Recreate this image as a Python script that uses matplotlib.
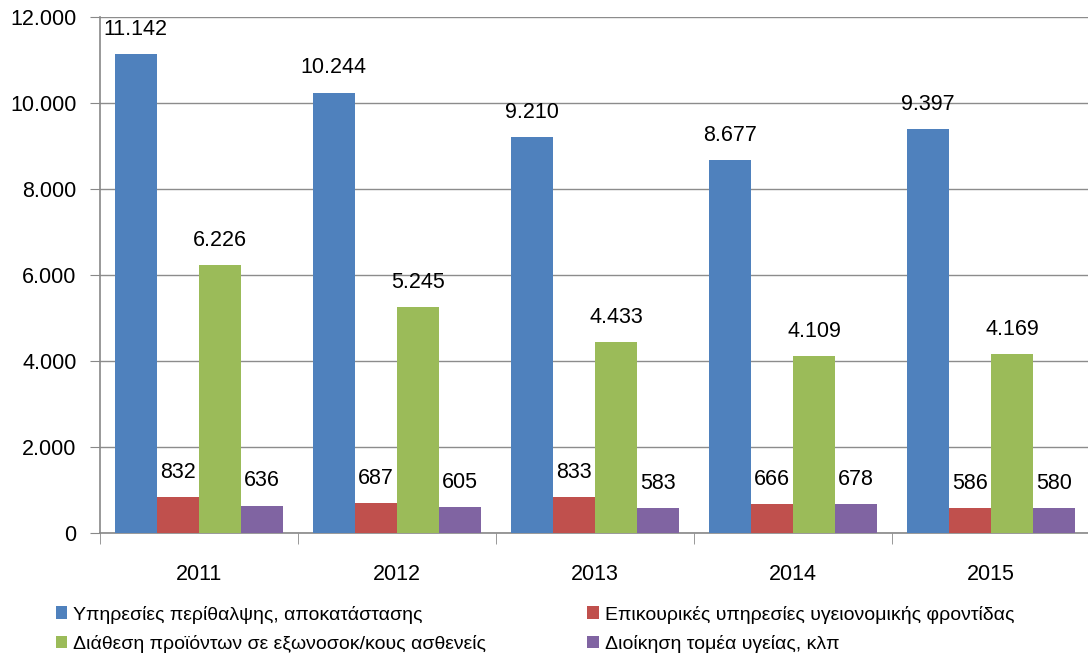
import numpy as np
import matplotlib.pyplot as plt
from matplotlib.ticker import FuncFormatter

years = ['2011', '2012', '2013', '2014', '2015']
series_names = ['Υπηρεσίες περίθαλψης, αποκατάστασης',
                'Επικουρικές υπηρεσίες υγειονομικής φροντίδας',
                'Διάθεση προϊόντων σε εξωνοσοκ/κους ασθενείς',
                'Διοίκηση τομέα υγείας, κλπ']
care = [11142, 10244, 9210, 8677, 9397]
aux = [832, 687, 833, 666, 586]
products = [6226, 5245, 4433, 4109, 4169]
admin = [636, 605, 583, 678, 580]
colors = ['#4f81bd', '#c0504d', '#9bbb59', '#8064a2']

plt.rcParams['font.family'] = ['Liberation Sans', 'DejaVu Sans']

fig = plt.figure(figsize=(10.88, 6.59), dpi=100)
ax = fig.add_axes([100 / 1088, 1 - 533 / 659, 990 / 1088, 516 / 659])

x = np.arange(len(years))
w = 0.213
for i, (vals, c) in enumerate(zip([care, aux, products, admin], colors)):
    pos = x + (i - 1.5) * w
    ax.bar(pos, vals, w, color=c, label=series_names[i], zorder=3)
    for p, v in zip(pos, vals):
        ax.text(p, v + 330, f'{v:,}'.replace(',', '.'), ha='center', va='bottom',
                fontsize=15.5)

ax.set_ylim(0, 12000)
ax.set_yticks(range(0, 12001, 2000))
ax.yaxis.set_major_formatter(FuncFormatter(lambda v, p: f'{int(v):,}'.replace(',', '.')))
ax.set_xlim(-0.5, 4.465)
ax.set_xticks(x)
ax.set_xticklabels(years)
ax.set_xticks(np.arange(-0.5, 5, 1), minor=True)
ax.tick_params(axis='x', which='major', length=0, pad=22, labelsize=15.5)
ax.tick_params(axis='x', which='minor', length=8, color='#888888')
ax.tick_params(axis='y', length=7, color='#888888', labelsize=15.5, pad=10)
ax.grid(axis='y', color='#8c8c8c', linewidth=1, zorder=0)
for s in ['top', 'right']:
    ax.spines[s].set_visible(False)
for s in ['left', 'bottom']:
    ax.spines[s].set_color('#888888')
    ax.spines[s].set_linewidth(1.2)

h, l = ax.get_legend_handles_labels()
order = [0, 2, 1, 3]
fig.legend([h[i] for i in order], [l[i] for i in order], ncol=2,
           loc='upper left', bbox_to_anchor=(38 / 1088, 1 - 588 / 659),
           frameon=False, handlelength=0.6, handleheight=0.6,
           handletextpad=0.3, columnspacing=5.2, labelspacing=0.6,
           prop={'family': ['Liberation Sans', 'DejaVu Sans'], 'size': 14})

fig.savefig('out.png', dpi=100)
